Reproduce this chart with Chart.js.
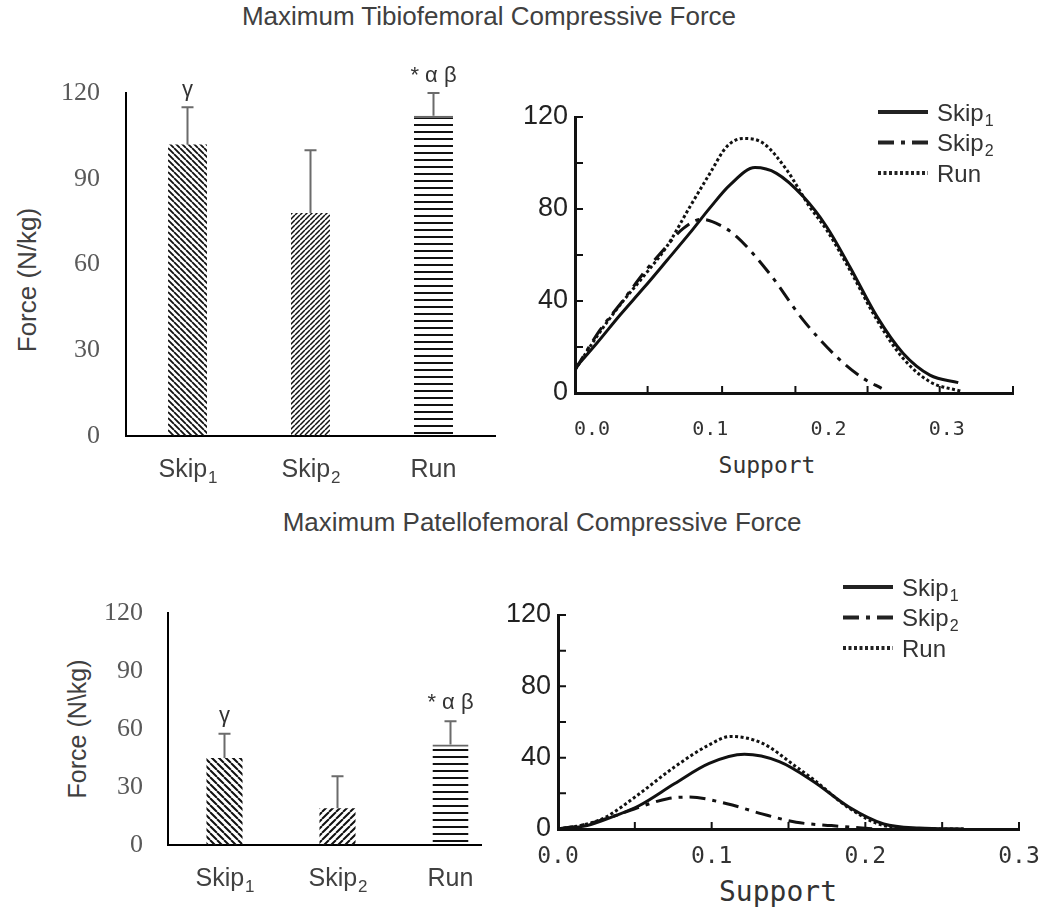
<!DOCTYPE html>
<html>
<head>
<meta charset="utf-8">
<script src="https://cdn.jsdelivr.net/npm/chart.js@4.4.1/dist/chart.umd.min.js"></script>
<style>
  html, body { margin: 0; padding: 0; background: #fff; }
  body { width: 1044px; height: 909px; position: relative; overflow: hidden; font-family: 'Liberation Sans', Arial, sans-serif; }
  .box { position: absolute; overflow: hidden; }
  .title { position: absolute; font-size: 26px; line-height: 26px; color: #404040; white-space: nowrap; transform: translateX(-50%); }
  .ytitle { position: absolute; line-height: 1; color: #404040; white-space: nowrap; transform: translate(-50%, -50%) rotate(-90deg); }
  .xtitle { position: absolute; font-family: 'DejaVu Sans Mono', monospace; line-height: 1; color: #333; white-space: nowrap; transform: translate(-50%, -50%); }
</style>
</head>
<body>
<div class="title" style="left:489px; top:3px">Maximum Tibiofemoral Compressive Force</div>
<div class="title" style="left:542px; top:509px">Maximum Patellofemoral Compressive Force</div>
<div class="ytitle" style="left:27px; top:280px; font-size:26px">Force (N/kg)</div>
<div class="ytitle" style="left:77px; top:729px; font-size:25px">Force (N\kg)</div>
<div class="xtitle" style="left:767px; top:465px; font-size:23px">Support</div>
<div class="xtitle" style="left:778px; top:892px; font-size:28px">Support</div>

<div class="box" style="left:0; top:40px; width:500px; height:450px"><canvas id="tfBar" width="500" height="450"></canvas></div>
<div class="box" style="left:510px; top:50px; width:534px; height:450px"><canvas id="tfLine" width="534" height="450"></canvas></div>
<div class="box" style="left:0; top:560px; width:482px; height:349px"><canvas id="pfBar" width="520" height="349"></canvas></div>
<div class="box" style="left:500px; top:560px; width:544px; height:349px"><canvas id="pfLine" width="570" height="349"></canvas></div>

<script>
// --- Data ---
const categories = ['Skip', 'Skip', 'Run'];
const categorySubs = ['1', '2', ''];
const sigMarks = ['γ', '', '* α β'];

// maximum force (N/kg), mean and upper error
const tfMeans = [102, 78, 112];
const tfErrors = [13, 22, 8];
const pfMeans = [45, 19, 52];
const pfErrors = [12.5, 16.5, 12];

const barYStep = 30;
const lineYStep = 20;
const lineYLabels = [0, 40, 80, 120];
const lineXLabels = [0, 0.1, 0.2, 0.3];
const tfXMarks = [0.047, 0.11, 0.172, 0.233, 0.294, 0.356];
const pfXMarks = [0.05, 0.1, 0.15, 0.2, 0.25, 0.3];

// tibiofemoral force curves over support
const tfSkip1X = [-0.0144, 0.004, 0.0237, 0.0434, 0.0631, 0.0828, 0.0997, 0.1167, 0.1378, 0.156, 0.1786, 0.1984, 0.218, 0.241, 0.263, 0.2857, 0.3097];
const tfSkip1Y = [10.7, 21.6, 33.9, 45.5, 57.5, 69.6, 80.5, 90.5, 98, 95.5, 85.4, 72.3, 54.9, 33.2, 17.3, 7.8, 4.5];
const tfSkip2X = [-0.0144, 0.0068, 0.0265, 0.0434, 0.0603, 0.0772, 0.0927, 0.1082, 0.1223, 0.150, 0.1786, 0.2068, 0.2293, 0.2449];
const tfSkip2Y = [10, 27.4, 40.4, 52, 62.2, 71.6, 75.5, 73, 68, 52, 31.7, 15.8, 6.4, 2];
const tfRunX = [-0.0144, 0.004, 0.0237, 0.0434, 0.0631, 0.0828, 0.0997, 0.1139, 0.128, 0.1448, 0.1646, 0.184, 0.1984, 0.218, 0.241, 0.263, 0.2857, 0.3126];
const tfRunY = [10, 24.5, 38.3, 50.6, 63.6, 81, 95.5, 107.1, 110.7, 108.6, 97, 81, 70.9, 53.5, 31.7, 15.1, 4.9, 0.7];

// patellofemoral force curves over support
const pfSkip1X = [0, 0.019, 0.0374, 0.053, 0.076, 0.0984, 0.1213, 0.144, 0.1667, 0.1893, 0.212, 0.235, 0.264];
const pfSkip1Y = [0, 2, 7.5, 13.2, 25.5, 36.8, 41.9, 37.8, 26.4, 12.3, 2.8, 0.5, 0];
const pfSkip2X = [0, 0.019, 0.0374, 0.053, 0.0714, 0.085, 0.11, 0.1327, 0.155, 0.178, 0.2075];
const pfSkip2Y = [0, 2.8, 7.5, 12.3, 17, 17.9, 14.2, 8.5, 3.8, 1.9, 0];
const pfRunX = [0, 0.019, 0.031, 0.053, 0.076, 0.0984, 0.1122, 0.1327, 0.155, 0.1667, 0.1893, 0.212, 0.235, 0.264];
const pfRunY = [0, 2.8, 6.6, 19.8, 34.9, 47.2, 51.9, 48.2, 34.9, 27.5, 11.8, 1.9, 0.2, 0];

Chart.defaults.font.family = "'Liberation Sans', Arial, sans-serif";
Chart.defaults.animation = false;

// --- Helpers ---
function hatch(dir, s, lw) {
  const c = document.createElement('canvas');
  c.width = s; c.height = s;
  const g = c.getContext('2d');
  g.strokeStyle = '#111';
  g.lineWidth = lw;
  g.beginPath();
  if (dir === 'h') {
    g.moveTo(0, lw / 2); g.lineTo(s, lw / 2);
  } else {
    for (let k = -1; k <= 1; k++) {
      if (dir === 'back') { g.moveTo(k * s, 0); g.lineTo(k * s + s, s); }
      else { g.moveTo(k * s, s); g.lineTo(k * s + s, 0); }
    }
  }
  g.stroke();
  return g.createPattern(c, 'repeat');
}

// text with a lowered subscript, e.g. Skip1
function drawSub(ctx, text, sub, x, cy, size, color, align) {
  const subSize = Math.round(size * 0.66);
  ctx.font = size + "px 'Liberation Sans', Arial, sans-serif";
  const w1 = ctx.measureText(text).width;
  ctx.font = subSize + "px 'Liberation Sans', Arial, sans-serif";
  const w2 = sub ? ctx.measureText(sub).width : 0;
  const start = align === 'left' ? x : x - (w1 + w2) / 2;
  const base = cy + size * 0.36;
  ctx.fillStyle = color;
  ctx.textAlign = 'left';
  ctx.textBaseline = 'alphabetic';
  ctx.font = size + "px 'Liberation Sans', Arial, sans-serif";
  ctx.fillText(text, start, base);
  if (sub) {
    ctx.font = subSize + "px 'Liberation Sans', Arial, sans-serif";
    ctx.fillText(sub, start + w1 + 1, base + size * 0.22);
  }
}

// --- Error bars, significance marks and category labels ---
const barExtras = {
  id: 'barExtras',
  afterDatasetsDraw(chart, args, opts) {
    const ctx = chart.ctx;
    const ys = chart.scales.y;
    const xs = chart.scales.x;
    const meta = chart.getDatasetMeta(0);
    ctx.save();
    opts.means.forEach((m, i) => {
      const px = meta.data[i].x;
      const base = ys.getPixelForValue(m);
      const top = ys.getPixelForValue(m + opts.errors[i]);
      ctx.strokeStyle = '#6b6b6b';
      ctx.lineWidth = 2;
      ctx.beginPath();
      ctx.moveTo(px, base);
      ctx.lineTo(px, top);
      ctx.moveTo(px - 6, top);
      ctx.lineTo(px + 6, top);
      ctx.stroke();

      if (sigMarks[i]) {
        ctx.fillStyle = '#333';
        ctx.textAlign = 'center';
        ctx.textBaseline = 'middle';
        ctx.font = "22px 'Liberation Sans', Arial, sans-serif";
        ctx.fillText(sigMarks[i], px, top - opts.sigGap);
      }
      drawSub(ctx, categories[i], categorySubs[i], px, xs.top + 32, 25, '#404040', 'center');
    });
    ctx.restore();
  }
};

// --- Inner tick marks and legend for the line panels ---
const lineExtras = {
  id: 'lineExtras',
  afterDraw(chart, args, opts) {
    const ctx = chart.ctx;
    const a = chart.chartArea;
    const xs = chart.scales.x;
    const ys = chart.scales.y;
    ctx.save();
    ctx.strokeStyle = '#111';
    ctx.lineWidth = 2;
    ctx.beginPath();
    ys.ticks.forEach(t => {
      const py = ys.getPixelForValue(t.value);
      ctx.moveTo(a.left, py);
      ctx.lineTo(a.left + 8, py);
    });
    opts.marks.forEach(v => {
      const px = xs.getPixelForValue(v);
      ctx.moveTo(px, a.bottom);
      ctx.lineTo(px, a.bottom - 7);
    });
    ctx.stroke();

    chart.data.datasets.forEach((ds, i) => {
      const ly = opts.legendY + i * 30.5;
      ctx.strokeStyle = '#222';
      ctx.lineWidth = 4;
      ctx.setLineDash(ds.borderDash || []);
      ctx.beginPath();
      ctx.moveTo(opts.legendX, ly);
      ctx.lineTo(opts.legendX + 50, ly);
      ctx.stroke();
      ctx.setLineDash([]);
      drawSub(ctx, categories[i], categorySubs[i], opts.legendX + 59, ly, 24, '#333', 'left');
    });
    ctx.restore();
  }
};

// --- Bar panels ---
function barChart(id, means, errors, patterns, opts) {
  return new Chart(document.getElementById(id), {
    type: 'bar',
    data: {
      labels: categories.map((c, i) => c + categorySubs[i]),
      datasets: [{
        data: means,
        backgroundColor: patterns,
        // only the striped Run bar has a grey top edge
        borderWidth: c => c.dataIndex === 2 ? { top: 2, left: 0, right: 0, bottom: 0 } : 0,
        borderColor: '#666',
        borderSkipped: 'start',
        barPercentage: opts.barPct,
        categoryPercentage: 1
      }]
    },
    options: {
      responsive: false,
      events: [],
      layout: { padding: { top: opts.padTop, right: opts.padRight, left: 0, bottom: 0 } },
      plugins: {
        legend: { display: false },
        tooltip: { enabled: false },
        barExtras: { means: means, errors: errors, sigGap: opts.sigGap }
      },
      scales: {
        x: {
          grid: { display: false, drawTicks: false },
          border: { color: '#000', width: 2 },
          ticks: { display: false },
          afterFit: s => { s.height = opts.xHeight; }
        },
        y: {
          min: 0,
          max: 120,
          grid: { display: false, drawTicks: false },
          border: { color: '#000', width: 2 },
          ticks: {
            stepSize: barYStep,
            padding: opts.tickPad,
            color: '#595959',
            font: { family: "'Liberation Serif', 'Times New Roman', serif", size: 26 }
          },
          afterFit: s => { s.width = opts.yWidth; }
        }
      }
    },
    plugins: [barExtras]
  });
}

barChart('tfBar', tfMeans, tfErrors,
  [hatch('back', 6, 1.8), hatch('fwd', 5, 1.5), hatch('h', 7, 2)],
  { barPct: 0.317, padTop: 53, padRight: 5, xHeight: 54, yWidth: 126, tickPad: 26, sigGap: 17 });

barChart('pfBar', pfMeans, pfErrors,
  [hatch('back', 7, 2), hatch('fwd', 7, 2), hatch('h', 7, 2)],
  { barPct: 0.319, padTop: 53, padRight: 13, xHeight: 64, yWidth: 168, tickPad: 25, sigGap: 18 });

// --- Line panels ---
function toPoints(xs, ys) {
  return xs.map((x, i) => ({ x: x, y: ys[i] }));
}

function lineChart(id, series, opts) {
  const styles = [
    { borderDash: [] },
    { borderDash: [16, 7, 4, 7] },
    { borderDash: [3, 2.5] }
  ];
  return new Chart(document.getElementById(id), {
    type: 'line',
    data: {
      datasets: series.map((s, i) => ({
        data: toPoints(s[0], s[1]),
        borderColor: '#111',
        borderWidth: 3,
        borderDash: styles[i].borderDash,
        pointRadius: 0,
        cubicInterpolationMode: 'monotone',
        fill: false
      }))
    },
    options: {
      responsive: false,
      events: [],
      layout: { padding: { top: opts.padTop, right: opts.padRight, left: 0, bottom: 0 } },
      plugins: {
        legend: { display: false },
        tooltip: { enabled: false },
        lineExtras: { marks: opts.marks, legendX: opts.legendX, legendY: opts.legendY }
      },
      scales: {
        x: {
          type: 'linear',
          min: opts.xMin,
          max: opts.xMax,
          grid: { display: false, drawTicks: false },
          border: { color: '#111', width: 3 },
          afterBuildTicks: s => { s.ticks = lineXLabels.map(v => ({ value: v })); },
          ticks: {
            padding: opts.xPad,
            color: '#333',
            maxRotation: 0,
            autoSkip: false,
            font: { family: "'DejaVu Sans Mono', monospace", size: opts.xFont },
            callback: v => v.toFixed(1)
          },
          afterFit: s => { s.height = opts.xHeight; }
        },
        y: {
          min: 0,
          max: 120,
          grid: { display: false, drawTicks: false },
          border: { color: '#111', width: 3 },
          ticks: {
            stepSize: lineYStep,
            padding: 7,
            color: '#222',
            font: { size: 27 },
            callback: v => lineYLabels.includes(v) ? v : ''
          },
          afterFit: s => { s.width = opts.yWidth; }
        }
      }
    },
    plugins: [lineExtras]
  });
}

lineChart('tfLine',
  [[tfSkip1X, tfSkip1Y], [tfSkip2X, tfSkip2Y], [tfRunX, tfRunY]],
  { xMin: -0.0144, xMax: 0.356, padTop: 67, padRight: 31, xHeight: 107, yWidth: 65,
    xPad: 25, xFont: 20, marks: tfXMarks, legendX: 368, legendY: 62 });

lineChart('pfLine',
  [[pfSkip1X, pfSkip1Y], [pfSkip2X, pfSkip2Y], [pfRunX, pfRunY]],
  { xMin: 0, xMax: 0.3, padTop: 55, padRight: 51, xHeight: 80, yWidth: 58,
    xPad: 14, xFont: 23, marks: pfXMarks, legendX: 343, legendY: 27 });
</script>
</body>
</html>
